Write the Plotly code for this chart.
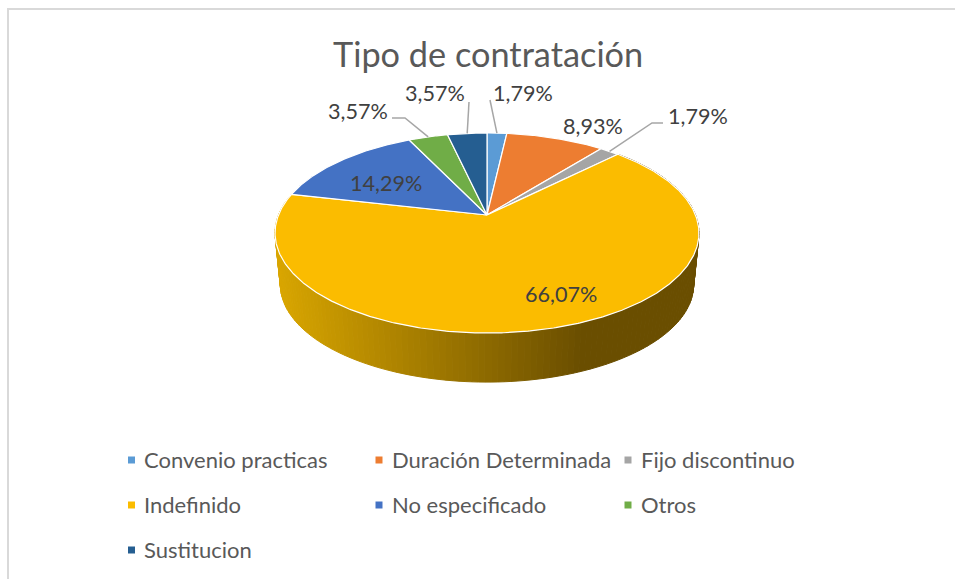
import math

import plotly.graph_objects as go

# Valores
CATEGORIAS = ["Convenio practicas", "Duración Determinada", "Fijo discontinuo",
              "Indefinido", "No especificado", "Otros", "Sustitucion"]
PORCENTAJES = [1.79, 8.93, 1.79, 66.07, 14.29, 3.57, 3.57]
ETIQUETAS = ["1,79%", "8,93%", "1,79%", "66,07%", "14,29%", "3,57%", "3,57%"]
COLORES = ["#5B9BD5", "#ED7D31", "#A5A5A5", "#FBBC00", "#4472C4", "#70AD47", "#255E91"]
TITULO = "Tipo de contratación"

# Geometria de la tarta en perspectiva (pixeles, origen en el vertice)
CX, CY = 487, 215
A, B, K = 208.5, 96.8, 0.18
ESCALA_BASE, CAIDA = 0.975, 52

# Centro de cada etiqueta y codo de su linea guia, en pixeles de la pagina
POS_ETIQUETA = [(523, 93), (593, 126), (698, 116), (561, 294), (386, 183), (358, 111), (435, 93)]
CODOS = [[(490, 100)], None, [(663, 123), (652, 123)], None, None,
         [(392, 118), (405, 118)], [(469, 102)]]
COL_LEYENDA = [131.5, 379, 628]
FIL_LEYENDA = [460, 505, 550]

FUENTE = "Lato"
GRIS_TITULO = "#595959"
GRIS_TEXTO = "#404040"


def proyecta(angulo, abajo=False):
    """angulo en grados, en sentido horario desde arriba -> x, y relativos al vertice."""
    t = math.radians(angulo)
    w = 1 + K * math.cos(t)
    x = A * math.sin(t) / w
    y = B * math.cos(t) / w
    if abajo:
        return x * ESCALA_BASE, y * ESCALA_BASE - CAIDA
    return x, y


def rango(ini, fin, paso=1.0):
    n = max(2, int((fin - ini) / paso) + 1)
    return [ini + (fin - ini) * i / (n - 1) for i in range(n)]


def pagina(px, py):
    return px - CX, CY - py


def color_pared(x):
    # degradado horizontal: claro a la izquierda, oscuro desde x=+95
    f = min(1, max(0, (x + 212) / 307))
    c0, c1 = (217, 166, 0), (106, 78, 0)
    return "rgb(%d,%d,%d)" % tuple(round(a + (b - a) * f) for a, b in zip(c0, c1))


total = sum(PORCENTAJES)
limites = [0]
for v in PORCENTAJES:
    limites.append(limites[-1] + v / total * 360)

fig = go.Figure()

# Pared lateral (solo la porcion Indefinido queda a la vista)
angs = rango(limites[3], limites[4], 1.5)
for a0, a1 in zip(angs[:-1], angs[1:]):
    p0, p1 = proyecta(a0), proyecta(a1)
    q0, q1 = proyecta(a0, True), proyecta(a1, True)
    col = color_pared((p0[0] + p1[0]) / 2)
    fig.add_trace(go.Scatter(
        x=[p0[0], p1[0], q1[0], q0[0], p0[0]],
        y=[p0[1], p1[1], q1[1], q0[1], p0[1]],
        mode="lines", fill="toself", fillcolor=col,
        line=dict(color=col, width=1), hoverinfo="skip", showlegend=False,
    ))

# Cara superior
for i, cat in enumerate(CATEGORIAS):
    pts = [proyecta(a) for a in rango(limites[i], limites[i + 1], 0.5)]
    xs = [0] + [p[0] for p in pts] + [0]
    ys = [0] + [p[1] for p in pts] + [0]
    fig.add_trace(go.Scatter(
        x=xs, y=ys, mode="lines", fill="toself", fillcolor=COLORES[i],
        line=dict(color="white", width=1.2), name=cat, showlegend=False,
        hoverinfo="name",
    ))

# Lineas guia, desde el borde de la porcion hasta la etiqueta
for i, codo in enumerate(CODOS):
    if codo is None:
        continue
    borde = proyecta((limites[i] + limites[i + 1]) / 2)
    pts = [pagina(*p) for p in codo] + [borde]
    fig.add_trace(go.Scatter(
        x=[p[0] for p in pts], y=[p[1] for p in pts], mode="lines",
        line=dict(color="#A6A6A6", width=1.5), hoverinfo="skip", showlegend=False,
    ))

# Etiquetas de datos
for (px, py), txt in zip(POS_ETIQUETA, ETIQUETAS):
    x, y = pagina(px, py)
    fig.add_annotation(x=x, y=y, text=txt, showarrow=False,
                       font=dict(family=FUENTE, size=21.6, color=GRIS_TEXTO))

# Leyenda
for i, cat in enumerate(CATEGORIAS):
    x, y = pagina(COL_LEYENDA[i % 3], FIL_LEYENDA[i // 3])
    fig.add_trace(go.Scatter(
        x=[x], y=[y], mode="markers", name=cat, hoverinfo="name", showlegend=False,
        marker=dict(symbol="square", size=7, color=COLORES[i]),
    ))
    fig.add_annotation(x=x + 10.5, y=y + 1, text=cat, showarrow=False, xanchor="left",
                       font=dict(family=FUENTE, size=22, color=GRIS_TITULO))

# Titulo
x, y = pagina(488, 53)
fig.add_annotation(x=x, y=y, text=TITULO, showarrow=False,
                   font=dict(family=FUENTE, size=34.3, color=GRIS_TITULO))

# Marco del grafico
fig.add_shape(type="rect", xref="paper", yref="paper",
              x0=8 / 955, x1=1.1, y0=-0.1, y1=1 - 9 / 579,
              line=dict(color="#D9D9D9", width=2))

fig.update_layout(
    width=955, height=579,
    margin=dict(l=0, r=0, t=0, b=0),
    paper_bgcolor="white", plot_bgcolor="white",
    showlegend=False,
    xaxis=dict(range=[-CX, 955 - CX], visible=False),
    yaxis=dict(range=[CY - 579, CY], visible=False),
)

fig.write_html("out.html", config=dict(displayModeBar=False),
               post_script="document.body.style.margin='0';")
